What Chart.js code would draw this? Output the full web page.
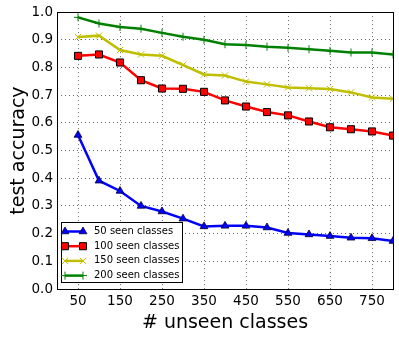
<!DOCTYPE html>
<html>
<head>
<meta charset="utf-8">
<script src="https://cdn.jsdelivr.net/npm/chart.js@4.4.1/dist/chart.umd.min.js"></script>
<style>
  html, body { margin: 0; padding: 0; background: #fff; }
  #wrap { width: 399px; height: 338px; }
</style>
</head>
<body>
<div id="wrap"><canvas id="chart" width="399" height="338"></canvas></div>
<script>
    "use strict";
    // number of unseen classes
    const unseen = [ 50, 100, 150, 200, 250, 300, 350, 400, 450, 500, 550, 600, 650, 700, 750, 800 ];
    const seen50 = [ 0.556, 0.391, 0.354, 0.300, 0.280, 0.254, 0.226, 0.228, 0.228, 0.222, 0.202, 0.197, 0.191, 0.185, 0.183, 0.173 ];
    const seen100 = [ 0.842, 0.847, 0.818, 0.754, 0.724, 0.723, 0.712, 0.681, 0.659, 0.639, 0.627, 0.605, 0.584, 0.577, 0.569, 0.554 ];
    const seen150 = [ 0.910, 0.915, 0.863, 0.847, 0.842, 0.809, 0.775, 0.771, 0.749, 0.739, 0.728, 0.725, 0.722, 0.710, 0.692, 0.687 ];
    const seen200 = [ 0.981, 0.959, 0.946, 0.940, 0.925, 0.911, 0.900, 0.884, 0.881, 0.875, 0.871, 0.866, 0.860, 0.854, 0.854, 0.847 ];
    const seriesLabels = [ "50 seen classes", "100 seen classes", "150 seen classes", "200 seen classes" ];
    const xTicks = [ 50, 150, 250, 350, 450, 550, 650, 750 ];

    const FONT = "'DejaVu Sans', sans-serif";

    function pts(vals) {
        return vals.map((v, i) => ({ x: unseen[i], y: v }));
    }

    const styles = [
        { color: "#0000ff", pointStyle: "triangle", radius: 4.5, edge: "#000033", bw: 0.8 },
        { color: "#ff0000", pointStyle: "rect", radius: 5, edge: "#000000", bw: 1 },
        { color: "#bfbf00", pointStyle: "crossRot", radius: 4.5, edge: "#bfbf00", bw: 1 },
        { color: "#008000", pointStyle: "cross", radius: 4, edge: "#008000", bw: 1 }
    ];
    const allSeries = [ seen50, seen100, seen150, seen200 ];

    const datasets = allSeries.map((vals, i) => ({
        label: seriesLabels[i],
        data: pts(vals),
        borderColor: styles[i].color,
        backgroundColor: styles[i].color,
        borderWidth: 2.5,
        pointStyle: styles[i].pointStyle,
        pointRadius: styles[i].radius,
        pointBackgroundColor: styles[i].color,
        pointBorderColor: styles[i].edge,
        pointBorderWidth: styles[i].bw,
        tension: 0
    }));

    // frame around the plot area + legend inside lower left
    const framePlugin = {
        id: "frame",
        afterDraw(chart) {
            const { ctx, chartArea: a } = chart;
            ctx.save();
            ctx.strokeStyle = "#000";
            ctx.lineWidth = 1;
            ctx.strokeRect(Math.round(a.left) + 0.5, Math.round(a.top) + 0.5, Math.round(a.right - a.left), Math.round(a.bottom - a.top));

            // legend
            const bx = Math.round(a.left) + 4, by = Math.round(a.bottom) - 67, bw = 121, bh = 60;
            ctx.fillStyle = "#fff";
            ctx.fillRect(bx, by, bw, bh);
            ctx.strokeRect(bx + 0.5, by + 0.5, bw, bh);
            ctx.font = "10px " + FONT;
            ctx.textBaseline = "middle";
            ctx.textAlign = "left";
            chart.data.datasets.forEach((ds, i) => {
                const y = by + 9.5 + i * 14.7;
                const x1 = bx + 4, x2 = bx + 22;
                ctx.strokeStyle = ds.borderColor;
                ctx.lineWidth = 2.5;
                ctx.beginPath();
                ctx.moveTo(x1, y);
                ctx.lineTo(x2, y);
                ctx.stroke();
                ctx.fillStyle = ds.pointBackgroundColor;
                ctx.strokeStyle = ds.pointBorderColor;
                ctx.lineWidth = ds.pointBorderWidth;
                [ x1, x2 ].forEach(x => {
                    Chart.helpers.drawPoint(ctx, {
                        pointStyle: ds.pointStyle,
                        radius: ds.pointRadius,
                        rotation: 0,
                        borderWidth: ds.pointBorderWidth
                    }, x, y);
                });
                ctx.fillStyle = "#000";
                ctx.fillText(ds.label, bx + 33, y);
            });
            ctx.restore();
        }
    };

    new Chart(document.getElementById("chart"), {
        type: "line",
        data: { datasets },
        plugins: [ framePlugin ],
        options: {
            responsive: false,
            animation: false,
            layout: { padding: { top: 10, right: 6, left: 0, bottom: 0 } },
            plugins: {
                legend: { display: false },
                tooltip: { enabled: false }
            },
            scales: {
                x: {
                    type: "linear",
                    min: 0,
                    max: 800,
                    afterBuildTicks: axis => {
                        axis.ticks = xTicks.map(v => ({ value: v }));
                    },
                    afterFit: axis => { axis.height = 49; },
                    grid: { color: "rgba(0,0,0,0.6)", lineWidth: 1, drawTicks: false },
                    border: { display: false, dash: [ 1, 3 ] },
                    ticks: {
                        color: "#000",
                        padding: 4,
                        maxRotation: 0,
                        autoSkip: false,
                        font: { family: FONT, size: 13.5 }
                    },
                    title: {
                        display: true,
                        text: "# unseen classes",
                        color: "#000",
                        font: { family: FONT, size: 19 },
                        padding: { top: 4, bottom: 4 }
                    }
                },
                y: {
                    min: 0,
                    max: 1,
                    afterFit: axis => { axis.width = 57; },
                    grid: { color: "rgba(0,0,0,0.6)", lineWidth: 1, drawTicks: false },
                    border: { display: false, dash: [ 1, 3 ] },
                    ticks: {
                        stepSize: 0.1,
                        color: "#000",
                        padding: 4,
                        font: { family: FONT, size: 13.5 },
                        callback: v => v.toFixed(1)
                    },
                    title: {
                        display: true,
                        text: "test accuracy",
                        color: "#000",
                        font: { family: FONT, size: 19 },
                        padding: { top: 8, bottom: 8 }
                    }
                }
            }
        }
    });
</script>
</body>
</html>
